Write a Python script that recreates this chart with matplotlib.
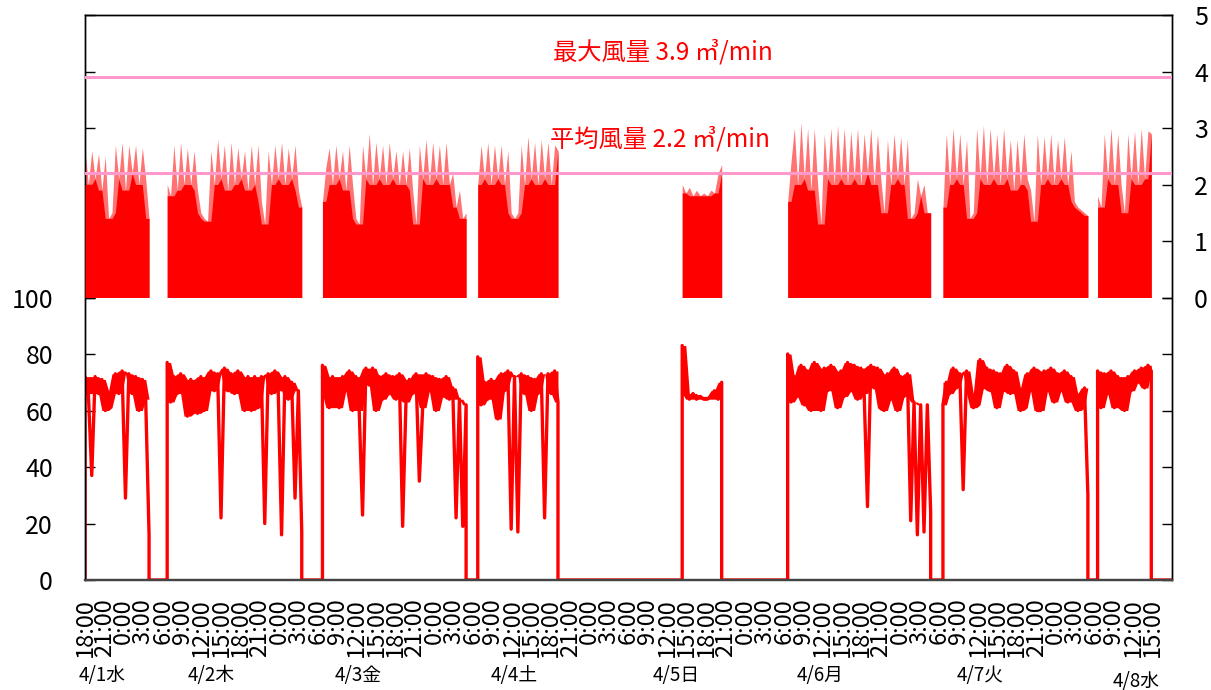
import numpy as np
import matplotlib
matplotlib.use("Agg")
import matplotlib.pyplot as plt

plt.rcParams['font.family'] = ['Noto Sans CJK JP', 'DejaVu Sans']

# hours since 4/1 18:00
TOTAL_H = 168

# running periods (start / stop hour)
run_start = [0.0, 12.7, 36.7, 60.7, 92.3, 108.6, 132.6, 156.5]
run_end = [9.9, 33.5, 58.9, 73.1, 98.4, 130.7, 155.0, 164.8]

# load (%), left axis
load_runs = [
    [72, 66, 37, 72, 66, 71, 60, 61, 67, 73, 66, 74, 29, 73, 66, 72, 60, 71, 64, 16],
    [77, 63, 72, 66, 73, 66, 58, 71, 66, 59, 72, 60, 68, 74, 67, 73, 22, 75, 67, 73,
     66, 74, 67, 60, 72, 60, 72, 61, 72, 20, 73, 66, 74, 67, 16, 72, 64, 70, 29, 67, 17],
    [76, 66, 61, 72, 66, 61, 72, 67, 74, 60, 72, 60, 23, 75, 69, 75, 60, 72, 64, 73,
     66, 72, 64, 73, 19, 63, 71, 66, 73, 35, 61, 73, 67, 72, 60, 71, 65, 72, 64, 68,
     22, 64, 19, 62],
    [79, 62, 70, 64, 71, 66, 57, 73, 67, 74, 18, 72, 17, 73, 66, 72, 60, 71, 66, 73,
     22, 73, 66, 74, 63],
    [83, 66, 64, 66, 64, 65, 64, 64, 65, 67, 64, 70],
    [80, 63, 72, 65, 76, 62, 74, 60, 77, 66, 60, 75, 67, 76, 68, 61, 74, 65, 77, 67,
     76, 64, 75, 66, 26, 76, 68, 75, 61, 60, 73, 64, 75, 60, 72, 65, 73, 21, 63, 16,
     62, 17, 62, 24],
    [62, 70, 66, 75, 68, 73, 32, 74, 66, 61, 62, 78, 68, 75, 67, 74, 61, 73, 67, 76,
     66, 74, 68, 60, 61, 73, 67, 75, 60, 60, 74, 67, 75, 63, 73, 67, 74, 63, 72, 66,
     60, 61, 68, 30],
    [74, 61, 73, 66, 74, 61, 72, 66, 60, 72, 67, 74, 70, 75, 68, 76, 74],
]

# air flow (m3/min), right axis
flow_runs = [
    [2.6, 2.0, 2.6, 2.1, 2.55, 1.9, 2.5, 1.4, 1.5, 2.7, 2.1, 2.75, 1.9, 2.7, 2.2, 2.7,
     2.0, 2.65, 2.1, 1.4],
    [2.0, 1.8, 2.7, 1.9, 2.75, 2.0, 2.65, 2.0, 2.6, 1.9, 1.5, 1.4, 1.35, 2.6, 2.0, 2.8,
     2.1, 2.7, 1.9, 2.75, 2.0, 2.65, 2.1, 2.6, 1.9, 2.7, 2.0, 2.7, 1.7, 1.3, 2.6, 2.0,
     2.7, 2.1, 2.75, 2.0, 2.65, 2.1, 2.7, 1.9, 1.6],
    [1.7, 2.3, 2.65, 2.0, 2.7, 2.1, 2.6, 1.9, 2.7, 2.0, 1.4, 1.3, 2.7, 2.1, 2.9, 2.0,
     2.75, 2.1, 2.7, 2.0, 2.75, 2.1, 2.6, 2.0, 2.6, 2.0, 2.65, 1.9, 1.3, 2.7, 2.1, 2.8,
     2.0, 2.75, 2.1, 2.7, 2.0, 2.75, 2.0, 2.2, 1.6, 1.9, 1.4, 1.5],
    [2.0, 2.7, 2.1, 2.75, 2.0, 2.7, 2.1, 2.7, 2.0, 2.6, 1.5, 1.4, 1.5, 2.7, 2.0, 2.85,
     2.1, 2.75, 2.0, 2.8, 2.1, 2.75, 2.0, 2.7, 2.6],
    [2.0, 1.85, 1.95, 1.8, 1.9, 1.8, 1.85, 1.8, 1.9, 1.85, 2.2, 2.35],
    [1.7, 2.4, 3.0, 2.0, 3.1, 2.1, 3.0, 1.9, 3.0, 2.0, 1.3, 2.9, 2.1, 3.0, 2.0, 3.05,
     2.1, 3.0, 2.0, 2.95, 2.1, 3.0, 2.0, 2.9, 2.2, 3.0, 2.0, 2.9, 2.1, 1.5, 2.8, 2.0,
     2.9, 2.1, 2.85, 2.0, 2.8, 1.4, 1.5, 2.1, 1.8, 2.0, 1.5, 1.5],
    [1.6, 2.9, 2.0, 3.0, 2.1, 2.9, 2.0, 2.8, 1.4, 1.5, 3.0, 2.1, 3.05, 2.0, 3.0, 2.1,
     2.9, 2.0, 3.0, 2.1, 2.8, 1.9, 2.8, 2.0, 2.9, 2.1, 1.9, 1.35, 2.9, 2.0, 2.85, 2.1,
     2.9, 2.0, 2.8, 2.1, 2.85, 2.0, 2.6, 1.7, 1.6, 1.55, 1.5, 1.45],
    [1.8, 1.6, 2.9, 2.1, 3.0, 2.0, 2.9, 2.0, 1.5, 2.9, 2.1, 2.95, 2.0, 3.0, 2.1, 2.95, 2.9],
]

max_flow = 3.9
avg_flow = 2.2

day_labels = ["4/1水", "4/2木", "4/3金", "4/4土", "4/5日", "4/6月", "4/7火", "4/8水"]
day_pos = [2.6, 19.5, 42.2, 66.3, 91.3, 113.6, 138.3, 162.4]


def neighbours(v):
    # value with its left and right neighbour, stacked
    return np.vstack([np.r_[v[0], v[:-1]], v, np.r_[v[1:], v[-1]]])


fig = plt.figure(figsize=(12.11, 6.9), dpi=100)
ax = fig.add_axes([85 / 1211, 110 / 690, 1087 / 1211, 565 / 690])
ax2 = ax.twinx()

# load line: zero while stopped, vertical steps at start / stop
xs, ys = [], []
for s, e, vals in zip(run_start, run_end, load_runs):
    v = np.array(vals, dtype=float)
    tr = np.linspace(s, e, len(v))
    xs += [s] + list(tr) + [e]
    ys += [0] + list(v) + [0]
    # the raw trace jitters inside a band; shade the local range (short dips excluded)
    nb = neighbours(np.where(v >= 55, v, np.nan))
    lo = np.nanmin(nb, axis=0)
    hi = np.nanmax(nb, axis=0)
    ax.fill_between(tr, lo, hi, color='#ff0000', linewidth=0)
xs.append(TOTAL_H)
ys.append(0)
ax.plot(xs, ys, color='#ff0000', lw=2.4, solid_joinstyle='round')

# flow: solid body up to the local minimum, lighter spikes above it
for s, e, vals in zip(run_start, run_end, flow_runs):
    v = np.array(vals)
    tr = np.linspace(s, e, len(v))
    base = neighbours(v).min(axis=0)
    ax2.fill_between(tr, 0, v, color='#ff0000', alpha=0.55, linewidth=0, zorder=2)
    ax2.fill_between(tr, 0, base, color='#ff0000', linewidth=0, zorder=3)

ax2.axhline(max_flow, color='#ff99cc', lw=2.2, zorder=4)
ax2.axhline(avg_flow, color='#ff99cc', lw=2.2, zorder=4)
ax2.text(89.3, 4.34, f"最大風量 {max_flow} ㎥/min", color='#ff0000', fontsize=17.5,
         ha='center', va='center', zorder=5)
ax2.text(88.9, 2.8, f"平均風量 {avg_flow} ㎥/min", color='#ff0000', fontsize=17.5,
         ha='center', va='center', zorder=5)

ax.set_xlim(0, TOTAL_H)
ax.set_ylim(0, 200)
ax2.set_ylim(-5, 5)

xt = np.arange(0, 166, 3)
ax.set_xticks(xt)
ax.set_xticklabels([f"{(18 + h) % 24}:00" for h in xt])
ax.tick_params(axis='x', length=0, pad=13, labelsize=17, labelrotation=90)

ax.set_yticks([0, 20, 40, 60, 80, 100])
ax.tick_params(axis='y', direction='in', length=7, width=1, right=True,
               labelsize=18, pad=23)
ax2.set_yticks([0, 1, 2, 3, 4, 5])
ax2.tick_params(axis='y', direction='in', length=7, width=1, left=True,
                labelsize=18, pad=16)

for a in (ax, ax2):
    for sp in a.spines.values():
        sp.set_linewidth(1)
        sp.set_color('black')
    a.spines['bottom'].set_linewidth(1.6)
    a.spines['bottom'].set_color('#444444')

for lab, x in zip(day_labels, day_pos):
    y = -0.179 if lab == "4/8水" else -0.169
    ax.text(x, y, lab, transform=ax.get_xaxis_transform(), fontsize=13.5,
            ha='center', va='center')

fig.savefig("out.png", dpi=100)
